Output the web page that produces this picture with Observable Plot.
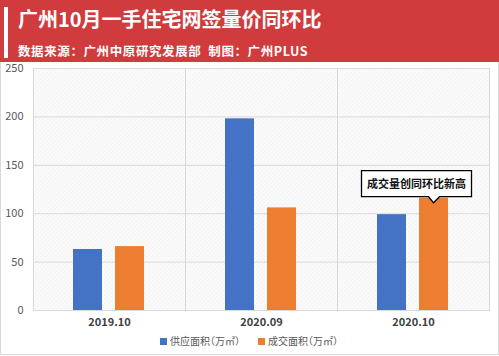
<!DOCTYPE html>
<html><head><meta charset="utf-8">
<script src="https://cdn.jsdelivr.net/npm/d3@7"></script>
<script src="https://cdn.jsdelivr.net/npm/@observablehq/plot@0.6"></script>
<style>
body{margin:0;background:#fff;font-family:"Noto Sans CJK SC","Noto Sans",sans-serif;}
#wrap{width:499px;height:356px;position:relative;overflow:hidden;}
#head{height:62px;background:#d03c3e;position:relative;color:#fff;}
#bar{position:absolute;left:4px;top:7px;width:4px;height:51px;background:#fff;}
#title{position:absolute;left:18px;top:5px;font-size:20px;font-weight:bold;line-height:28px;}
#sub{position:absolute;left:18px;top:41px;font-size:12.5px;font-weight:bold;line-height:20px;letter-spacing:0.6px;}
#body{position:absolute;top:62px;left:0;width:497px;height:292px;border:1px solid #d9d9d9;border-top:none;}
#chart svg{overflow:visible;}
#legend{position:absolute;top:333px;left:160px;width:300px;font-size:10px;color:#595959;font-feature-settings:"halt";white-space:nowrap;}
#legend span.sw{display:inline-block;width:7px;height:7px;margin-right:3px;vertical-align:0px;}
#legend span.it{display:inline-block;margin-right:18px;}
</style></head>
<body><div id="wrap">
<div id="head"><div id="bar"></div><div id="title">广州10月一手住宅网签量价同环比</div><div id="sub">数据来源：广州中原研究发展部&nbsp;&nbsp;制图：广州PLUS</div></div>
<div id="body"></div>
<div id="chart" style="position:absolute;top:62px;left:0"></div>
<div id="legend"></div>
</div>
<script>
const categories = ["2019.10", "2020.09", "2020.10"];
const seriesNames = ["供应面积（万㎡）", "成交面积（万㎡）"];
const supply = [63, 198, 99];
const deal = [66, 106, 116];
const yTicks = [0, 50, 100, 150, 200, 250];
const colors = ["#4472c4", "#ed7d31"];
const annotation = {cat: "2020.10", series: "成交面积（万㎡）", value: 116, text: "成交量创同环比新高"};

const data = [];
categories.forEach((c, i) => {
  data.push({cat: c, series: seriesNames[0], value: supply[i]});
  data.push({cat: c, series: seriesNames[1], value: deal[i]});
});

const plot = Plot.plot({
  width: 499,
  height: 268,
  marginLeft: 32,
  marginRight: 9,
  marginTop: 6,
  marginBottom: 20,
  style: {fontFamily: '"Noto Sans CJK SC", sans-serif', fontSize: "11px", color: "#595959", background: "transparent", overflow: "visible"},
  fx: {domain: categories, padding: 0, label: null, axis: "bottom", tickSize: 0, tickPadding: 8},
  x: {domain: seriesNames, axis: null, paddingInner: 0.3, paddingOuter: 0.925},
  y: {domain: [0, 250], ticks: yTicks, label: null, tickSize: 0, tickPadding: 10},
  color: {domain: seriesNames, range: colors},
  marks: [
    Plot.frame({fill: "url(#hatch)", stroke: "#d9d9d9"}),
    Plot.gridY(yTicks, {stroke: "#d9d9d9", strokeOpacity: 1}),
    Plot.barY(data, {fx: "cat", x: "series", y: "value", fill: "series"})
  ]
});
const svg = d3.select(plot);
const defs = svg.insert("defs", ":first-child");
const pat = defs.append("pattern").attr("id", "hatch").attr("patternUnits", "userSpaceOnUse")
  .attr("width", 3).attr("height", 3).attr("patternTransform", "rotate(45)");
pat.append("rect").attr("width", 3).attr("height", 3).attr("fill", "#fbfbfb");
pat.append("line").attr("x1", 0).attr("y1", 0).attr("x2", 0).attr("y2", 3).attr("stroke", "#ececec").attr("stroke-width", 1);
svg.selectAll("[aria-label='fx-axis tick label'] text").attr("font-weight", "bold").attr("fill", "#404040");
document.getElementById("chart").appendChild(plot);

// callout positioned through the plot's own scales
const fx = plot.scale("fx"), xs = plot.scale("x"), ys = plot.scale("y");
const cx = fx.apply(annotation.cat) + (xs.apply(annotation.series) - xs.range[0]) + xs.bandwidth / 2;
const tipY = ys.apply(annotation.value) + 5;
const boxW = 110, boxH = 26, ptr = 6, shift = -17;
const bx = cx + shift - boxW / 2, bb = tipY - ptr, bt = bb - boxH;
const g = svg.append("g").attr("aria-label", "callout");
g.append("path")
  .attr("d", `M${bx},${bt}H${bx + boxW}V${bb}H${cx + 6}L${cx},${tipY}L${cx - 5},${bb}H${bx}Z`)
  .attr("fill", "white").attr("stroke", "black").attr("stroke-width", 1.3);
g.append("text").attr("x", bx + boxW / 2).attr("y", bt + boxH / 2).attr("dy", "0.36em")
  .attr("text-anchor", "middle").attr("font-size", 11).attr("font-weight", "bold").attr("fill", "#111")
  .text(annotation.text);

const lg = document.getElementById("legend");
seriesNames.forEach((s, i) => {
  const it = document.createElement("span");
  it.className = "it";
  it.innerHTML = `<span class="sw" style="background:${colors[i]}"></span>${s}`;
  lg.appendChild(it);
});
</script>
</body></html>
